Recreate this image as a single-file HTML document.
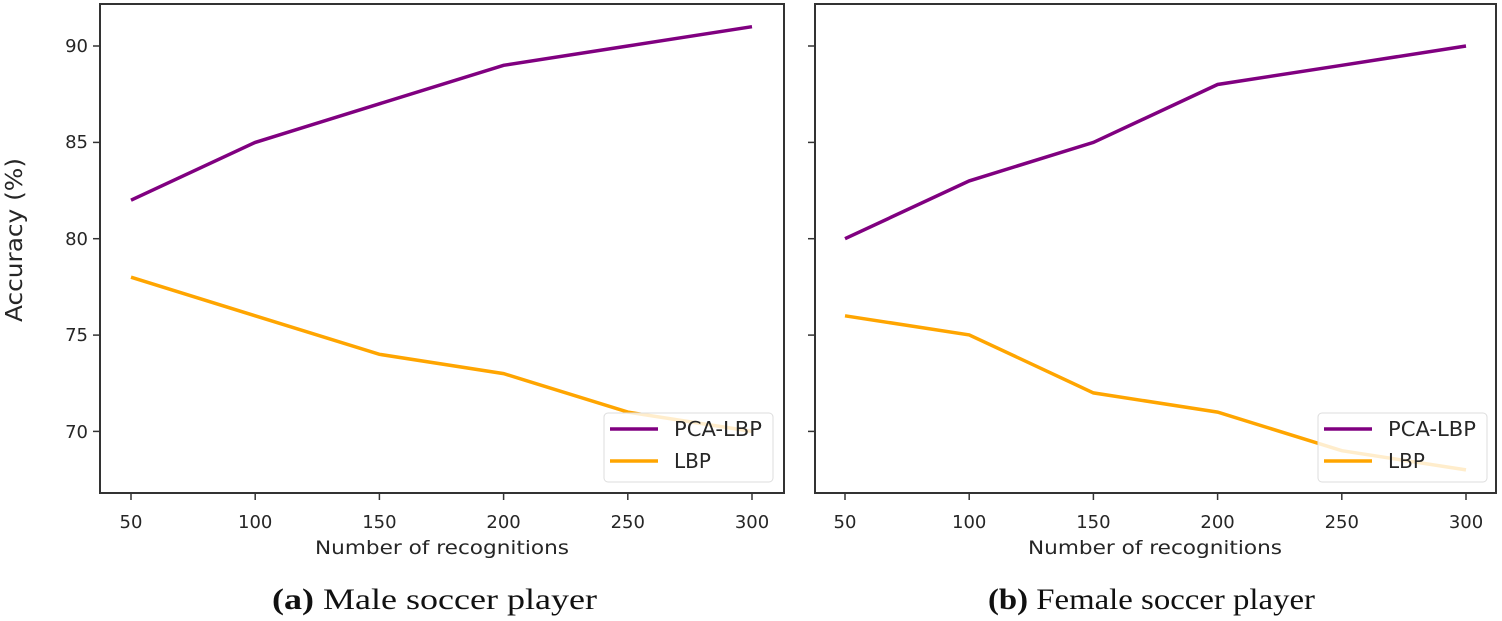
<!DOCTYPE html>
<html><head><meta charset="utf-8"><style>
html,body{margin:0;padding:0;background:#fff;}
svg{display:block;}
.t{font-family:"DejaVu Sans","Liberation Sans",sans-serif;fill:#262626;}
.c{font-family:"Liberation Serif",serif;fill:#111;}
</style></head><body>
<svg width="1502" height="621" viewBox="0 0 1502 621" xmlns="http://www.w3.org/2000/svg">
<rect width="1502" height="621" fill="#fff"/>
<!-- Left panel -->
<rect x="100" y="4" width="684" height="489" fill="none" stroke="#333" stroke-width="2"/>
<g stroke="#333" stroke-width="1.5">
<line x1="93" y1="46" x2="100" y2="46"/><line x1="93" y1="142.4" x2="100" y2="142.4"/><line x1="93" y1="238.7" x2="100" y2="238.7"/><line x1="93" y1="335.1" x2="100" y2="335.1"/><line x1="93" y1="431.4" x2="100" y2="431.4"/>
<line x1="131" y1="493" x2="131" y2="500"/><line x1="255.2" y1="493" x2="255.2" y2="500"/><line x1="379.4" y1="493" x2="379.4" y2="500"/><line x1="503.6" y1="493" x2="503.6" y2="500"/><line x1="627.8" y1="493" x2="627.8" y2="500"/><line x1="752" y1="493" x2="752" y2="500"/>
</g>
<g class="t" font-size="18" text-anchor="end">
<text x="88" y="52">90</text><text x="88" y="148">85</text><text x="88" y="245">80</text><text x="88" y="341">75</text><text x="88" y="438">70</text>
</g>
<g class="t" font-size="18" text-anchor="middle">
<text x="131" y="528">50</text><text x="255.2" y="528">100</text><text x="379.4" y="528">150</text><text x="503.6" y="528">200</text><text x="627.8" y="528">250</text><text x="752" y="528">300</text>
</g>
<text class="t" font-size="19" x="315" y="554" textLength="254" lengthAdjust="spacingAndGlyphs">Number of recognitions</text>
<text class="t" font-size="23" transform="translate(22,322) rotate(-90)" textLength="164" lengthAdjust="spacingAndGlyphs">Accuracy (%)</text>
<polyline fill="none" stroke="#800080" stroke-width="3.5" points="131,200.2 255.2,142.4 379.4,103.8 503.6,65.3 627.8,46 752,26.7"/>
<polyline fill="none" stroke="#FFA500" stroke-width="3.5" points="131,277.2 255.2,315.8 379.4,354.3 503.6,373.6 627.8,412.1 752,431.4"/>
<rect x="604" y="413" width="169" height="69" rx="4" fill="#fff" fill-opacity="0.8" stroke="#ddd" stroke-width="1"/>
<line x1="610" y1="429" x2="658" y2="429" stroke="#800080" stroke-width="3.5"/>
<line x1="610" y1="461" x2="658" y2="461" stroke="#FFA500" stroke-width="3.5"/>
<g class="t" font-size="20"><text x="674" y="436" textLength="88" lengthAdjust="spacingAndGlyphs">PCA-LBP</text><text x="674" y="468">LBP</text></g>
<text class="c" font-size="30" x="272" y="609" textLength="325" lengthAdjust="spacingAndGlyphs"><tspan font-weight="bold">(a)</tspan> Male soccer player</text>

<!-- Right panel -->
<rect x="815" y="4" width="681" height="489" fill="none" stroke="#333" stroke-width="2"/>
<g stroke="#333" stroke-width="1.5">
<line x1="808" y1="46" x2="815" y2="46"/><line x1="808" y1="142.4" x2="815" y2="142.4"/><line x1="808" y1="238.7" x2="815" y2="238.7"/><line x1="808" y1="335.1" x2="815" y2="335.1"/><line x1="808" y1="431.4" x2="815" y2="431.4"/>
<line x1="845" y1="493" x2="845" y2="500"/><line x1="969.2" y1="493" x2="969.2" y2="500"/><line x1="1093.4" y1="493" x2="1093.4" y2="500"/><line x1="1217.6" y1="493" x2="1217.6" y2="500"/><line x1="1341.8" y1="493" x2="1341.8" y2="500"/><line x1="1466" y1="493" x2="1466" y2="500"/>
</g>
<g class="t" font-size="18" text-anchor="middle">
<text x="845" y="528">50</text><text x="969.2" y="528">100</text><text x="1093.4" y="528">150</text><text x="1217.6" y="528">200</text><text x="1341.8" y="528">250</text><text x="1466" y="528">300</text>
</g>
<text class="t" font-size="19" x="1028" y="554" textLength="254" lengthAdjust="spacingAndGlyphs">Number of recognitions</text>
<polyline fill="none" stroke="#800080" stroke-width="3.5" points="845,238.7 969.2,180.9 1093.4,142.4 1217.6,84.5 1341.8,65.3 1466,46"/>
<polyline fill="none" stroke="#FFA500" stroke-width="3.5" points="845,315.8 969.2,334.9 1093.4,392.9 1217.6,412.1 1341.8,450.7 1466,469.9"/>
<rect x="1318" y="413" width="169" height="69" rx="4" fill="#fff" fill-opacity="0.8" stroke="#ddd" stroke-width="1"/>
<line x1="1324" y1="429" x2="1372" y2="429" stroke="#800080" stroke-width="3.5"/>
<line x1="1324" y1="461" x2="1372" y2="461" stroke="#FFA500" stroke-width="3.5"/>
<g class="t" font-size="20"><text x="1388" y="436" textLength="88" lengthAdjust="spacingAndGlyphs">PCA-LBP</text><text x="1388" y="468">LBP</text></g>
<text class="c" font-size="30" x="988" y="609" textLength="327" lengthAdjust="spacingAndGlyphs"><tspan font-weight="bold">(b)</tspan> Female soccer player</text>
</svg>
</body></html>
